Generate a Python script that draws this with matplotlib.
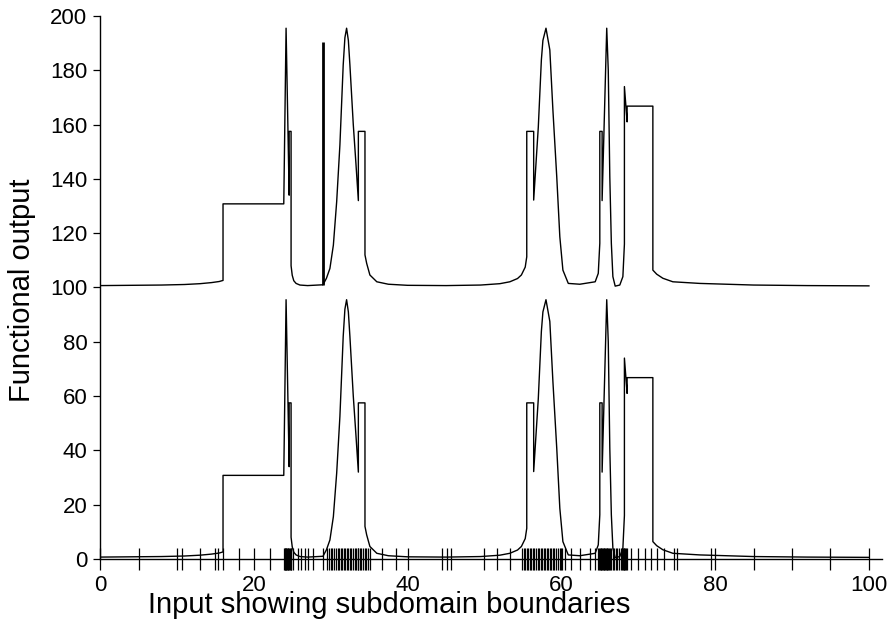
import numpy as np
import matplotlib
matplotlib.use("Agg")
import matplotlib.pyplot as plt

plt.rcParams['font.family'] = ['Liberation Sans', 'DejaVu Sans']

# piecewise response, sampled along the input
xs = [0, 4, 8, 11, 13, 14.5, 15.5, 16.0,
      16.0, 23.9,
      24.2, 24.6,
      24.6, 24.85, 24.85, 25.0, 25.2, 25.5, 26.0, 27.0, 29.0,
      29.45, 29.9, 30.35, 30.78, 31.2, 31.63, 31.85, 32.07, 32.3, 32.5, 32.94, 33.3, 33.6,
      33.6, 34.46, 34.46, 34.68, 35.1, 36.0, 37.5, 40.0, 45.0, 49.5, 52.0, 53.3, 54.3, 54.8, 55.3, 55.5,
      55.5, 56.4, 56.4,
      57.0, 57.4, 57.6, 58.0, 58.5, 58.9, 59.4, 59.8, 60.2, 60.9, 62.4, 64.4, 64.8, 65.0,
      65.0, 65.3, 65.3,
      65.9, 66.1, 66.3, 66.5, 66.7, 67.0, 67.6, 68.0, 68.2,
      68.2, 68.55, 68.55, 71.9, 71.9, 72.4, 73.2, 74.5, 78.0, 85.0, 92.0, 100.0]
ys = [0.7, 0.8, 0.9, 1.1, 1.4, 1.8, 2.2, 2.6,
      30.8, 30.8,
      95.5, 34.0,
      57.5, 57.5, 8.0, 4.5, 2.5, 1.5, 0.9, 0.7, 1.0,
      3.4, 7.0, 15.6, 31.6, 52.5, 82.0, 92.0, 95.5, 91.0, 82.0, 60.0, 45.0, 32.0,
      57.5, 57.5, 12.0, 8.9, 4.6, 2.1, 1.2, 0.8, 0.7, 0.9, 1.4, 2.1, 3.3, 4.6, 7.5, 11.3,
      57.5, 57.5, 32.2,
      59.0, 83.8, 91.0, 95.5, 87.5, 65.4, 40.8, 18.7, 6.4, 1.5, 1.2, 2.1, 5.2, 16.3,
      57.5, 57.5, 32.0,
      95.5, 80.0, 40.8, 16.3, 4.0, 0.5, 0.9, 4.0, 16.0,
      74.0, 61.0, 66.8, 66.8, 6.4, 4.9, 3.4, 2.1, 1.5, 0.9, 0.7, 0.6]

offset = 100.0
spike_x = 29.0
spike_top = 190.4

# subdomain boundaries
bounds = [0, 5.1, 10.0, 10.6, 13.0, 15.0, 15.4, 16.0, 18.1, 20.0, 22.1,
          23.95, 24.05, 24.1, 24.15, 24.2, 24.3, 24.4, 24.5, 24.6, 24.7, 24.8, 24.9,
          25.1, 25.7, 26.1, 26.7, 27.1, 27.7, 29.0,
          29.5, 29.8, 30.0, 30.2, 30.45, 30.7, 30.9, 31.1, 31.3, 31.5, 31.7, 31.9,
          32.1, 32.3, 32.5, 32.7, 32.9, 33.1, 33.3, 33.5, 33.6, 33.8, 34.0, 34.2,
          34.4, 34.6, 34.8, 35.1, 36.7, 38.5, 40.0, 44.5, 45.1, 45.6, 50.0, 51.6, 53.3,
          54.9, 55.1, 55.3, 55.5, 55.7, 55.9, 56.1, 56.3, 56.5, 56.7, 56.9, 57.1,
          57.3, 57.5, 57.7, 57.9, 58.1, 58.3, 58.5, 58.7, 58.9, 59.1, 59.3, 59.5,
          59.8, 60.1, 60.5, 61.3, 62.4, 63.7, 64.4,
          64.8, 64.9, 65.0, 65.1, 65.2, 65.3, 65.4, 65.5, 65.6, 65.7, 65.8, 65.9,
          66.0, 66.1, 66.2, 66.35, 66.5, 66.7, 66.9, 67.1, 67.3, 67.5, 67.7, 67.9,
          68.0, 68.1, 68.2, 68.3, 68.4, 68.5, 69.1, 70.0, 70.9, 71.7, 72.5, 73.3,
          74.6, 75.0, 79.5, 80.0, 85.0, 90.0, 95.0, 100.0]

xs = np.array(xs)
ys = np.array(ys)

fig = plt.figure(figsize=(8.92, 6.22), dpi=100)
ax = fig.add_axes([0.1121, 0.1013, 0.8767, 0.873])

ax.plot(xs, ys, color='black', lw=1.0)
ax.plot(xs, ys + offset, color='black', lw=1.0)
ax.vlines(spike_x, np.interp(spike_x, xs, ys) + offset, spike_top, color='black', lw=2.0)

ax.set_xlim(0, 101.7)
ax.set_ylim(0, 200)
ax.spines['top'].set_visible(False)
ax.spines['right'].set_visible(False)
for s in ('left', 'bottom'):
    ax.spines[s].set_linewidth(1.0)

ax.set_xticks([0, 20, 40, 60, 80, 100])
ax.set_xticks(bounds, minor=True)
ax.set_yticks(range(0, 201, 20))
ax.tick_params(axis='x', which='both', direction='inout', length=16.5, width=0.9,
               labelsize=16, pad=3)
ax.tick_params(axis='y', direction='out', length=5, width=0.9, labelsize=16, pad=4)

ax.set_xlabel('Input showing subdomain boundaries', fontsize=21)
ax.set_ylabel('Functional output', fontsize=21)
ax.xaxis.set_label_coords(0.37, -0.059)
ax.yaxis.set_label_coords(-0.082, 0.495)

fig.savefig('out.png', dpi=100)
